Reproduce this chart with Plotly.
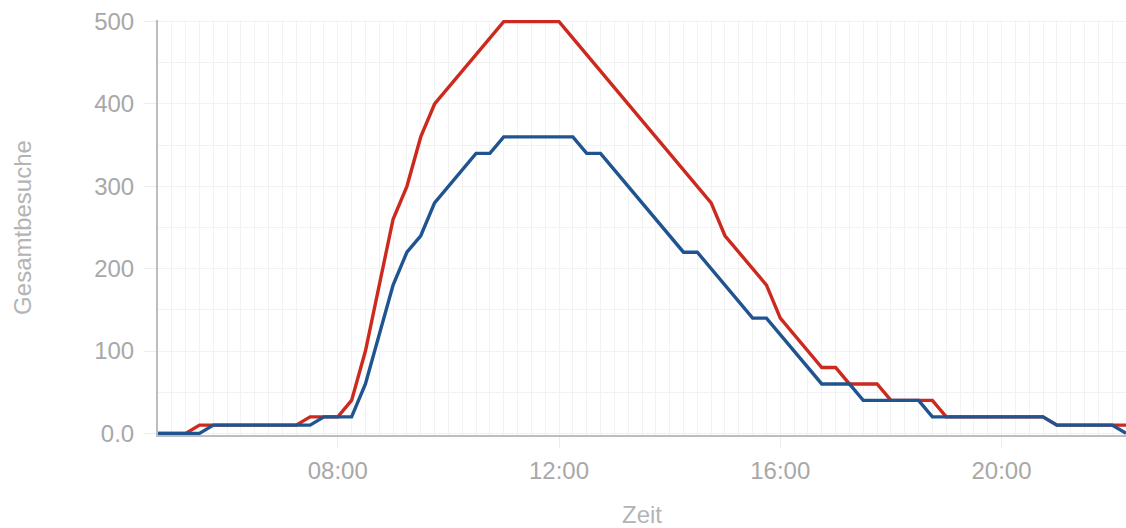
import pandas as pd
import plotly.graph_objects as go

# 15-minute time slots from 04:45 to 22:15
start_time = "2024-01-01 04:45"
end_time = "2024-01-01 22:15"
times = pd.date_range(start_time, end_time, freq="15min")

red_values = [
    0, 0, 0, 10, 10, 10, 10, 10, 10, 10,
    10, 20, 20, 20, 40, 100, 180, 260, 300, 360,
    400, 420, 440, 460, 480, 500, 500, 500, 500, 500,
    480, 460, 440, 420, 400, 380, 360, 340, 320, 300,
    280, 240, 220, 200, 180, 140, 120, 100, 80, 80,
    60, 60, 60, 40, 40, 40, 40, 20, 20, 20,
    20, 20, 20, 20, 20, 10, 10, 10, 10, 10,
    10,
]

blue_values = [
    0, 0, 0, 0, 10, 10, 10, 10, 10, 10,
    10, 10, 20, 20, 20, 60, 120, 180, 220, 240,
    280, 300, 320, 340, 340, 360, 360, 360, 360, 360,
    360, 340, 340, 320, 300, 280, 260, 240, 220, 220,
    200, 180, 160, 140, 140, 120, 100, 80, 60, 60,
    60, 40, 40, 40, 40, 40, 20, 20, 20, 20,
    20, 20, 20, 20, 20, 10, 10, 10, 10, 10,
    0,
]

y_tick_values = [0, 100, 200, 300, 400, 500]
y_tick_labels = ["0.0", "100", "200", "300", "400", "500"]

x_title = "Zeit"
y_title = "Gesamtbesuche"

FONT = "Arial, Liberation Sans, sans-serif"
GRID = "#f2f2f2"
TICK_TEXT = "#a8a8a8"
TITLE_TEXT = "#b4b4b4"

fig = go.Figure()
fig.add_trace(go.Scatter(x=times, y=red_values, mode="lines",
                         line=dict(color="#cc2a1e", width=3.4), name="rot"))
fig.add_trace(go.Scatter(x=times, y=blue_values, mode="lines",
                         line=dict(color="#1f5490", width=3.4), name="blau"))

fig.update_layout(
    width=1126, height=528,
    margin=dict(l=158, r=0, t=20, b=93),
    paper_bgcolor="white", plot_bgcolor="white",
    showlegend=False,
    font=dict(family=FONT, size=24, color=TICK_TEXT),
)

fig.update_xaxes(
    type="date",
    range=[start_time, end_time],
    tick0="2024-01-01 08:00",
    dtick=4 * 3600 * 1000,
    tickformat="%H:%M",
    ticks="outside", ticklen=11, tickcolor="#ececec", tickwidth=1,
    ticklabelstandoff=2,
    tickfont=dict(family=FONT, size=24, color=TICK_TEXT),
    showgrid=True, gridcolor=GRID, gridwidth=1,
    minor=dict(dtick=15 * 60 * 1000, showgrid=True, gridcolor=GRID, gridwidth=1),
    showline=True, linecolor="#bdbdbd", linewidth=2,
    zeroline=False,
    title=dict(text=x_title, font=dict(family=FONT, size=24, color=TITLE_TEXT), standoff=24),
)

fig.update_yaxes(
    range=[-2, 502],
    tickmode="array", tickvals=y_tick_values, ticktext=y_tick_labels,
    ticks="outside", ticklen=12, tickcolor="#ececec", tickwidth=1,
    ticklabelstandoff=5,
    tickfont=dict(family=FONT, size=24, color=TICK_TEXT),
    showgrid=True, gridcolor=GRID, gridwidth=1,
    minor=dict(tickmode="linear", tick0=0, dtick=50, showgrid=True, gridcolor=GRID, gridwidth=1),
    showline=True, linecolor="#bdbdbd", linewidth=2,
    zeroline=False,
    title=dict(text=y_title, font=dict(family=FONT, size=24, color=TITLE_TEXT), standoff=56),
)

fig.write_html(
    "out.html",
    config={"displayModeBar": False},
    post_script="document.body.style.margin='0';document.body.style.overflow='hidden';",
)
